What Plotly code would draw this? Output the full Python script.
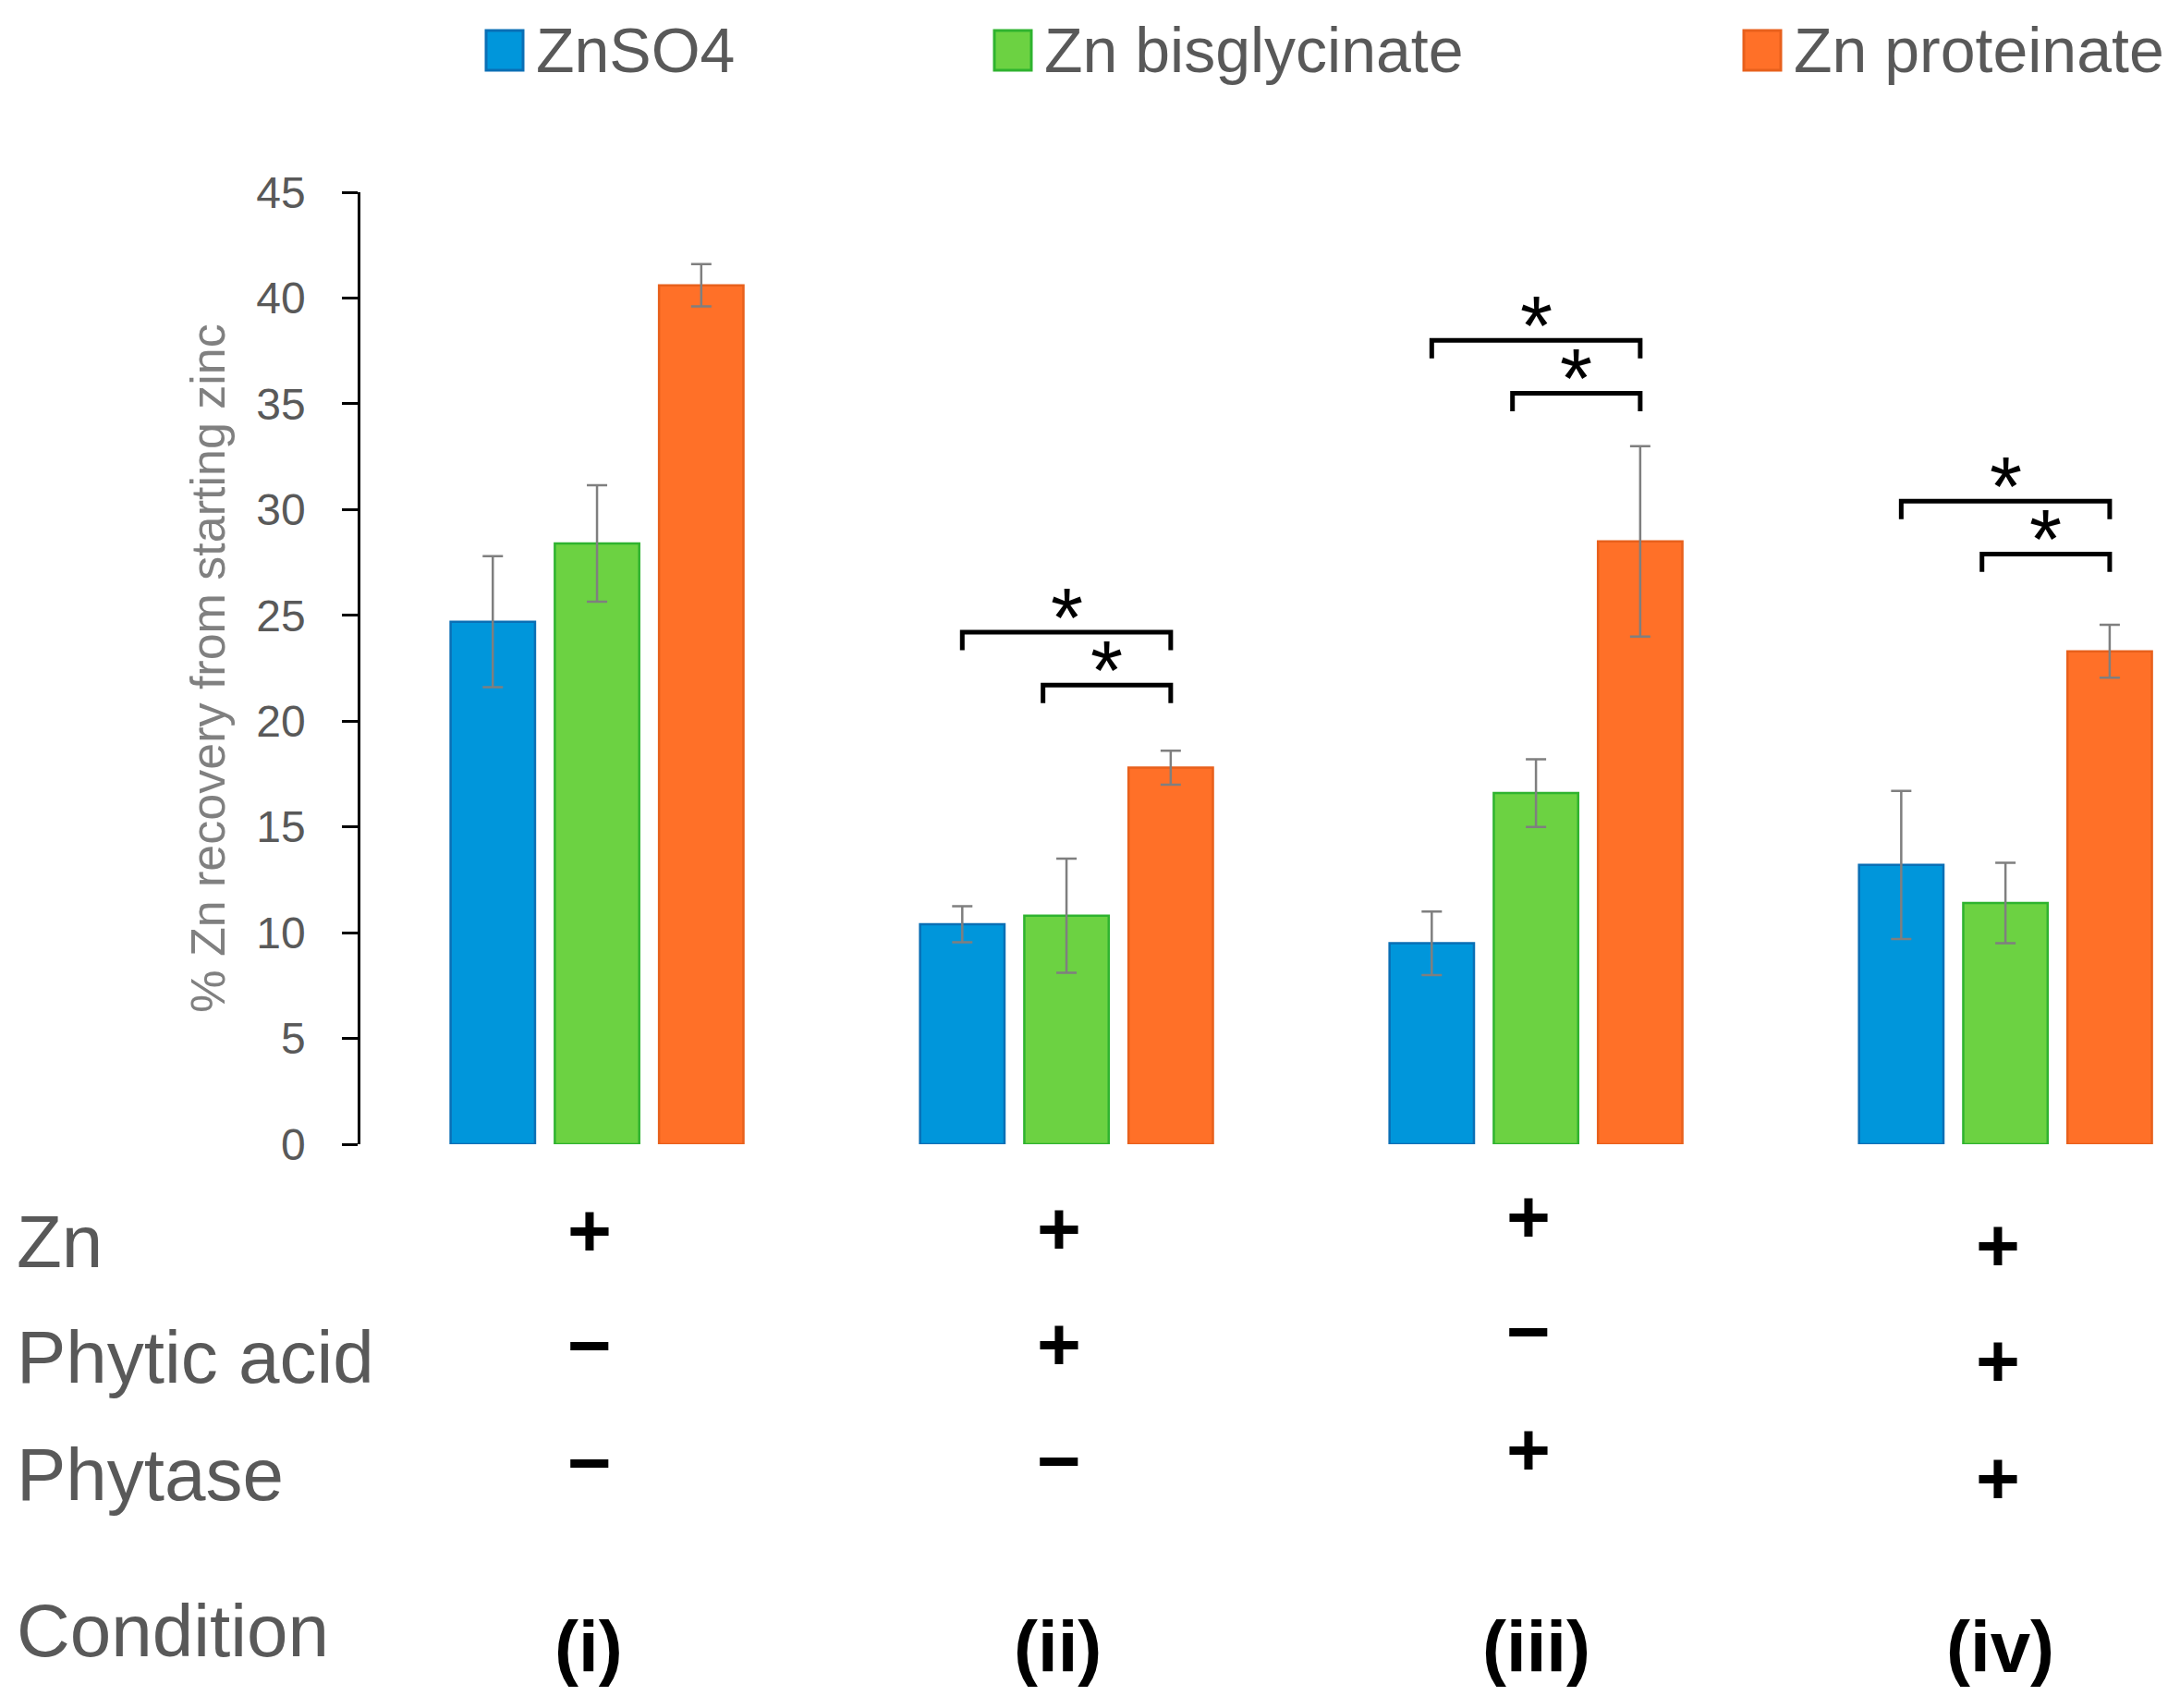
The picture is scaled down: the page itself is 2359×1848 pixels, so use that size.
import plotly.graph_objects as go

# values
conditions = ["(i)", "(ii)", "(iii)", "(iv)"]
series_names = ["ZnSO4", "Zn bisglycinate", "Zn proteinate"]
znso4 = [24.7, 10.4, 9.5, 13.2]
znso4_err = [3.1, 0.85, 1.5, 3.5]
bisglycinate = [28.4, 10.8, 16.6, 11.4]
bisglycinate_err = [2.75, 2.7, 1.6, 1.9]
proteinate = [40.6, 17.8, 28.5, 23.3]
proteinate_err = [1.0, 0.8, 4.5, 1.25]

factor_names = ["Zn", "Phytic acid", "Phytase"]
zn_added = ["+", "+", "+", "+"]
phytic_added = ["−", "+", "−", "+"]
phytase_added = ["−", "−", "+", "+"]

# significance brackets: (condition index, left series, right series, bracket height)
comparisons = [
    (1, 0, 2, 24.2), (1, 1, 2, 21.7),
    (2, 0, 2, 38.0), (2, 1, 2, 35.5),
    (3, 0, 2, 30.4), (3, 1, 2, 27.9),
]

colors = ["#0096DB", "#6CD242", "#FF7028"]
edge_colors = ["#0A6FB5", "#2FB32F", "#E8601C"]

W, H = 2359, 1848
OFF_X, OFF_Y = 6, 8  # page margin of the browser
M_L, M_R, M_T, M_B = 388 - OFF_X, 9 + OFF_X, 208 - OFF_Y, 610 + OFF_Y
plot_h = H - M_T - M_B
plot_w = W - M_L - M_R


def py(px):
    # reference pixel row -> paper y
    return (H - M_B - (px - OFF_Y)) / plot_h


def ppx(px):
    # reference pixel column -> paper x
    return (px - OFF_X - M_L) / plot_w


fig = go.Figure()
values = [znso4, bisglycinate, proteinate]
errors = [znso4_err, bisglycinate_err, proteinate_err]
xs = list(range(len(conditions)))
for name, vals, errs, c, ec in zip(series_names, values, errors, colors, edge_colors):
    fig.add_trace(go.Bar(
        x=xs, y=vals, name=name, showlegend=False,
        marker=dict(color=c, line=dict(color=ec, width=2.5)),
        error_y=dict(type="data", array=errs, color="#7F7F7F", thickness=2.5, width=11),
    ))

slot = (1 - 0.334) / 3
bracket_drop = 0.85
left_pad = [0, -0.05, 0]
for g, a, b, level in comparisons:
    x0 = g + (a - 1) * slot + left_pad[a]
    x1 = g + (b - 1) * slot
    fig.add_shape(type="path",
                  path=f"M {x0},{level - bracket_drop} L {x0},{level} L {x1},{level} L {x1},{level - bracket_drop}",
                  xref="x", yref="y", line=dict(color="black", width=5))
    fig.add_annotation(x=(x0 + x1) / 2, y=level, xref="x", yref="y", text="*",
                       showarrow=False, yanchor="middle", yshift=15,
                       font=dict(size=90, color="black", family="Liberation Sans"))

# manual legend (large swatches like the original)
legend_swatch_px = [524, 1074, 1885]
for name, c, ec, sx in zip(series_names, colors, edge_colors, legend_swatch_px):
    fig.add_shape(type="rect", xref="paper", yref="paper",
                  x0=ppx(sx), x1=ppx(sx + 40), y0=py(76), y1=py(33),
                  fillcolor=c, line=dict(color=ec, width=3))
    fig.add_annotation(x=ppx(sx + 52), y=py(54), xref="paper", yref="paper",
                       text=name, showarrow=False, xanchor="left", yanchor="middle",
                       font=dict(size=68, color="#595959", family="Liberation Sans"))

# condition table below the axis
row_px = [1330, 1455, 1582]
group_shift = [0, -2, -15, 16]
label_shift = [-9, -10, 0, -6]
for label, rp in zip(factor_names + ["Condition"], row_px + [1764]):
    lbl_y = py(rp + 13) if label != "Condition" else py(rp)
    fig.add_annotation(x=ppx(14), y=lbl_y, xref="paper", yref="paper",
                       text=label, showarrow=False, xanchor="left", yanchor="middle",
                       font=dict(size=80, color="#595959", family="Liberation Sans"))

for i, signs in enumerate(zip(zn_added, phytic_added, phytase_added)):
    for s, rp in zip(signs, row_px):
        fig.add_annotation(x=i, y=py(rp + group_shift[i]), xref="x", yref="paper",
                           text=f"<b>{s}</b>", showarrow=False, xshift=-8,
                           yanchor="middle",
                           font=dict(size=82, color="black", family="Liberation Sans"))
    fig.add_annotation(x=i, y=py(1782), xref="x", yref="paper",
                       text=f"<b>{conditions[i]}</b>", showarrow=False, yanchor="middle",
                       xshift=label_shift[i],
                       font=dict(size=78, color="black", family="Liberation Sans"))

fig.update_layout(
    width=W, height=H,
    margin=dict(l=M_L, r=M_R, t=M_T, b=M_B),
    paper_bgcolor="white", plot_bgcolor="white",
    barmode="group", bargap=0.334, bargroupgap=0.19,
    font=dict(family="Liberation Sans", color="#595959"),
)
fig.update_xaxes(range=[-0.504, 3.358], showticklabels=False, showline=False,
                 showgrid=False, zeroline=False, ticks="")
fig.update_yaxes(range=[0, 45], dtick=5, showgrid=False, zeroline=False,
                 showline=True, linecolor="black", linewidth=2.5,
                 ticks="outside", ticklen=17, tickwidth=2.5, tickcolor="black",
                 ticklabelstandoff=30,
                 tickfont=dict(size=48, color="#595959"),
                 title=dict(text="% Zn recovery from starting zinc", standoff=18,
                            font=dict(size=52, color="#808080")))

fig.write_html("out.html")
